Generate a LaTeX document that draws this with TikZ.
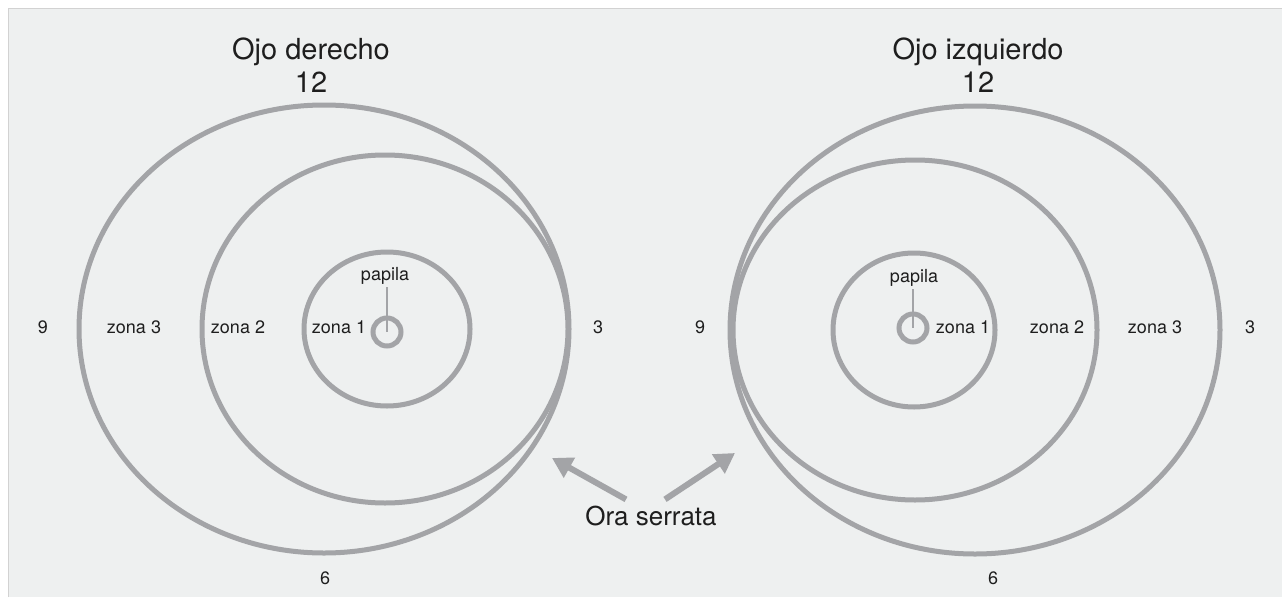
\documentclass[tikz,border=0pt]{standalone}
\usepackage{fontspec}
\setmainfont{TeX Gyre Heros}
\usetikzlibrary{arrows.meta}
\definecolor{ring}{HTML}{A3A4A7}
\definecolor{bg}{HTML}{EEF0F0}
\definecolor{ink}{HTML}{1E1E1E}
\tikzset{
  ringline/.style={draw=ring,line width=5pt},
  small/.style={text=ink,font=\fontsize{18}{22}\selectfont,inner sep=0pt,anchor=base},
  big/.style={text=ink,font=\fontsize{29}{34}\selectfont,inner sep=0pt,anchor=base},
  papdot/.style={circle,draw=ring,line width=5pt,minimum size=28pt,inner sep=0pt},
  pointer/.style={draw=ring,line width=6pt,-{Triangle[length=20pt,width=22pt]}}
}

\begin{document}
\begin{tikzpicture}[x=1pt,y=-1pt]
  \useasboundingbox (0,0) rectangle (1282,597);
  \fill[bg] (8,8) rectangle (1282,597);
  \draw[gray!35,line width=1pt] (8,597) -- (8,8) -- (1282,8);

  % ojo derecho
  \coordinate (o1) at (324,329);
  \coordinate (m1) at (385,329);
  \coordinate (z1) at (387,329);
  \draw[ringline] (o1) ellipse (245 and 224);
  \draw[ringline] (m1) ellipse (183 and 174);
  \draw[ringline] (z1) ellipse (83 and 77);
  \node[papdot] (p1) at (387,332) {};

  \node[big] (t1) at (311,59) {Ojo derecho};
  \node[big] (d1) at (311,92) {12};
  \node[small] (n1) at (43,333) {9};
  \node[small] (a1) at (134,333) {zona 3};
  \node[small] (b1) at (238,333) {zona 2};
  \node[small] (c1) at (339,333) {zona 1};
  \node[small] (e1) at (598,333) {3};
  \node[small] (s1) at (325,584) {6};
  \node[small] (l1) at (385,280) {papila};
  \draw[draw=ring,line width=2.5pt] ([yshift=-3pt]l1.south -| p1.center) -- (p1.center);

  % ojo izquierdo
  \coordinate (o2) at (975,330);
  \coordinate (m2) at (915,330);
  \coordinate (z2) at (914,330);
  \draw[ringline] (o2) ellipse (245 and 224);
  \draw[ringline] (m2) ellipse (182 and 170);
  \draw[ringline] (z2) ellipse (81 and 77);
  \node[papdot] (p2) at (913,328) {};

  \node[big] (t2) at (978,59) {Ojo izquierdo};
  \node[big] (d2) at (978,92) {12};
  \node[small] (n2) at (700,333) {9};
  \node[small] (c2) at (963,333) {zona 1};
  \node[small] (b2) at (1057,333) {zona 2};
  \node[small] (a2) at (1155,333) {zona 3};
  \node[small] (e2) at (1250,333) {3};
  \node[small] (s2) at (993,584) {6};
  \node[small] (l2) at (914,282) {papila};
  \draw[draw=ring,line width=2.5pt] ([yshift=-3pt]l2.south -| p2.center) -- (p2.center);

  % ora serrata
  \node[text=ink,font=\fontsize{26}{30}\selectfont,inner sep=0pt,anchor=base] (ora) at (651,525) {Ora serrata};
  \coordinate (tipL) at (552,458);
  \coordinate (tipR) at (735,453);
  \draw[pointer] ([shift={(-25,-6)}]ora.north) -- (tipL);
  \draw[pointer] ([shift={(14,-6)}]ora.north) -- (tipR);
\end{tikzpicture}
\end{document}
